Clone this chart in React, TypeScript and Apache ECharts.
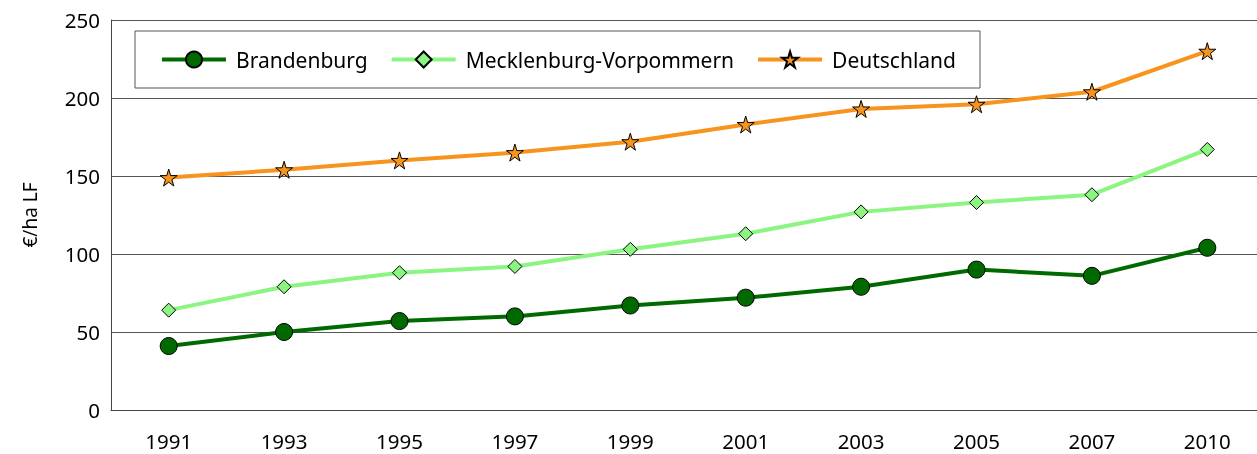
import React, { useEffect, useRef } from "react";
import * as echarts from "echarts";

const years = ["1991", "1993", "1995", "1997", "1999", "2001", "2003", "2005", "2007", "2010"];
const brandenburg = [41, 50, 57, 60, 67, 72, 79, 90, 86, 104];
const mecklenburg = [64, 79, 88, 92, 103, 113, 127, 133, 138, 167];
const deutschland = [149, 154, 160, 165, 172, 183, 193, 196, 204, 230];
const yTicks = { min: 0, max: 250, interval: 50 };

const FONT = "'Noto Sans', sans-serif";

export default function App() {
  const ref = useRef<HTMLDivElement>(null);
  useEffect(() => {
    if (!ref.current) return;
    const chart = echarts.init(ref.current, null, { renderer: "svg" });
    const mk = (name: string, data: number[], color: string, symbol: string, size: number) => ({
      name,
      type: "line",
      data,
      symbol,
      symbolSize: size,
      showAllSymbol: true,
      lineStyle: { color, width: 4 },
      itemStyle: { color, borderColor: "#000", borderWidth: 1 },
      z: 3,
    });
    chart.setOption({
      animation: false,
      textStyle: { fontFamily: FONT },
      legend: {
        left: 135,
        top: 31,
        padding: [18, 24, 18, 25],
        borderColor: "#555",
        borderWidth: 1,
        itemWidth: 64,
        itemHeight: 20,
        itemGap: 22,
        lineStyle: { width: 4 },
        textStyle: { fontSize: 21, color: "#000", fontFamily: FONT, padding: [0, 0, 0, 5] },
        data: ["Brandenburg", "Mecklenburg-Vorpommern", "Deutschland"],
      },
      grid: { left: 111, top: 20, bottom: 44, right: 0, containLabel: false },
      xAxis: {
        type: "category",
        data: years,
        boundaryGap: true,
        axisLine: { lineStyle: { color: "#444", width: 1 } },
        axisTick: { alignWithLabel: true, length: 10, lineStyle: { color: "#444" } },
        axisLabel: { fontSize: 20.5, color: "#000", margin: 20, fontFamily: FONT },
      },
      yAxis: {
        type: "value",
        min: yTicks.min,
        max: yTicks.max,
        interval: yTicks.interval,
        name: "€/ha LF",
        nameLocation: "middle",
        nameGap: 72,
        nameRotate: 90,
        nameTextStyle: { fontSize: 19, color: "#000", fontFamily: FONT },
        axisLine: { show: true, lineStyle: { color: "#444", width: 1 } },
        axisTick: { show: false },
        axisLabel: { fontSize: 20.5, color: "#000", margin: 11, fontFamily: FONT },
        splitLine: { lineStyle: { color: "#555", width: 1 } },
      },
      series: [
        mk("Brandenburg", brandenburg, "#006a00", "circle", 17),
        mk("Mecklenburg-Vorpommern", mecklenburg, "#8cf582", "diamond", 14),
        mk("Deutschland", deutschland, "#f7941d", "path://M50,0 L61,35 L98,35 L68,57 L79,91 L50,70 L21,91 L32,57 L2,35 L39,35 Z", 17),
      ],
    });
    return () => chart.dispose();
  }, []);
  return <div ref={ref} style={{ position: "fixed", left: 0, top: 0, width: 1265, height: 454 }} />;
}
